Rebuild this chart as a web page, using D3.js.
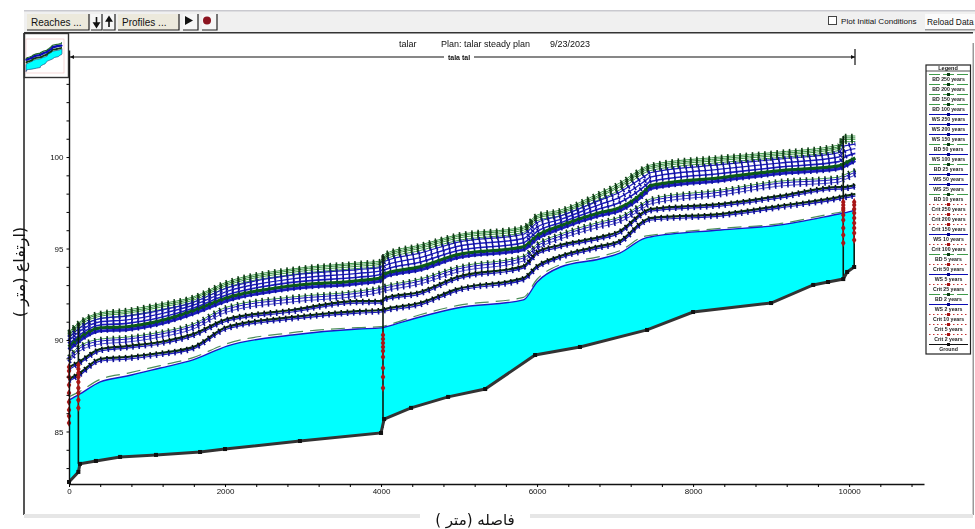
<!DOCTYPE html>
<html>
<head>
<meta charset="utf-8">
<script src="https://cdn.jsdelivr.net/npm/d3@7"></script>
<style>
  html, body { margin: 0; padding: 0; background: #fff; overflow: hidden; }
  svg { display: block; font-family: "Liberation Sans", Arial, sans-serif; filter: blur(0.4px); }
</style>
</head>
<body>
<div id="chart"></div>
<script>
// Data //////////////////////////////////////////////
// Distance along the reach (m) for the water surface and energy profiles
const stations = [0,120,400,745,1170,1590,2025,2860,3705,4000,4050,4500,4975,5825,6000,6300,6800,7060,7385,7450,8350,9100,9870,9930,10080];

const bd250 = [90.44,90.93,91.48,91.64,91.97,92.35,93.17,93.88,94.21,94.32,94.70,95.19,95.74,96.18,96.83,97.10,98.03,98.58,99.45,99.56,100.00,100.27,100.66,101.15,101.15];
const bd200 = [90.35,90.85,91.40,91.55,91.88,92.27,93.08,93.80,94.13,94.23,94.61,95.10,95.66,96.10,96.74,97.00,97.92,98.46,99.36,99.47,99.91,100.18,100.56,101.05,101.05];
const bd150 = [90.25,90.75,91.30,91.46,91.79,92.17,92.99,93.70,94.03,94.14,94.52,95.01,95.56,96.00,96.65,96.92,97.83,98.37,99.27,99.38,99.82,100.09,100.48,100.96,100.97];
const bd100 = [90.13,90.62,91.18,91.33,91.66,92.05,92.87,93.58,93.91,94.02,94.40,94.89,95.43,95.88,96.52,96.79,97.68,98.20,99.15,99.26,99.70,99.97,100.36,100.82,100.85];
const ws250 = [90.13,90.60,91.17,91.30,91.62,92.06,92.84,93.54,93.85,93.97,94.30,94.75,95.34,95.78,96.41,96.78,97.63,98.08,98.97,99.14,99.58,99.89,100.24,100.59,100.71];
const ws200 = [89.96,90.42,91.00,91.10,91.43,91.90,92.66,93.34,93.64,93.78,94.07,94.50,95.11,95.55,96.17,96.59,97.40,97.80,98.70,98.90,99.34,99.67,100.00,100.28,100.46];
const ws150 = [89.78,90.23,90.82,90.91,91.23,91.74,92.47,93.15,93.43,93.58,93.84,94.25,94.88,95.32,95.93,96.41,97.17,97.52,98.43,98.66,99.10,99.45,99.75,99.96,100.20];
const bd50  = [89.62,90.06,90.66,90.72,91.04,91.59,92.30,92.96,93.23,93.39,93.61,93.99,94.65,95.09,95.69,96.24,96.95,97.22,98.15,98.42,98.86,99.24,99.51,99.62,99.95];
const ws100 = [89.46,89.90,90.50,90.56,90.88,91.43,92.14,92.80,93.07,93.23,93.45,93.83,94.49,94.93,95.53,96.08,96.79,97.06,97.99,98.26,98.70,99.08,99.35,99.46,99.79];
const bd25  = [89.07,89.61,90.05,90.16,90.43,90.87,91.80,92.35,92.67,92.89,92.95,93.33,93.98,94.59,95.24,95.79,96.44,96.72,97.54,97.70,98.19,98.68,98.90,99.01,99.29];
const ws50  = [88.96,89.50,89.94,90.05,90.32,90.76,91.69,92.24,92.56,92.78,92.84,93.22,93.87,94.48,95.13,95.68,96.33,96.61,97.43,97.59,98.08,98.57,98.79,98.90,99.18];
const ws25  = [88.80,89.34,89.78,89.89,90.16,90.60,91.53,92.08,92.40,92.62,92.68,93.06,93.71,94.32,94.97,95.52,96.17,96.45,97.27,97.43,97.92,98.41,98.63,98.74,99.02];
const bd10  = [88.52,88.79,89.50,89.67,89.89,90.32,91.14,91.64,92.13,92.13,92.29,92.62,93.44,94.04,94.80,95.19,95.62,95.95,97.04,97.15,97.43,97.86,98.36,98.36,98.47];
const ws10  = [88.41,88.68,89.39,89.56,89.78,90.21,91.03,91.53,92.02,92.02,92.18,92.51,93.33,93.93,94.69,95.08,95.51,95.84,96.93,97.04,97.32,97.75,98.25,98.25,98.36];
const bd5   = [87.87,88.14,88.96,89.07,89.29,89.61,90.71,91.25,91.58,91.64,91.69,92.02,92.78,93.38,94.04,94.59,95.13,95.41,96.55,96.66,96.88,97.32,97.81,97.86,97.97];
const ws5   = [87.76,88.03,88.85,88.96,89.18,89.50,90.60,91.14,91.47,91.53,91.58,91.91,92.67,93.27,93.93,94.48,95.02,95.30,96.44,96.55,96.77,97.21,97.70,97.75,97.86];
const bd2   = [86.90,87.15,87.85,88.18,88.60,89.04,89.80,90.40,90.68,90.73,90.78,91.38,91.88,92.33,93.32,94.12,94.56,94.88,95.68,95.72,96.10,96.35,96.97,97.01,97.16];
const ws2   = [86.72,87.00,87.71,88.03,88.47,88.91,89.67,90.27,90.60,90.66,90.71,91.26,91.75,92.19,93.17,93.99,94.43,94.75,95.57,95.63,96.01,96.28,96.89,96.94,97.10];

// Ground has its own stations
const groundStations = [0,120,140,345,655,1115,1680,2000,2960,4000,4040,4385,4860,5335,5975,6550,7410,8000,9000,9540,9730,9925,9975,10065];
const groundValues = [82.24,82.79,83.23,83.39,83.61,83.72,83.88,84.04,84.48,84.92,85.68,86.29,86.89,87.32,89.18,89.62,90.55,91.53,92.02,93.01,93.17,93.33,93.72,93.99];

// Critical depth only shows up at the steep sections
const critStations = [0,120,4025,9925,10065];
const crit250 = [88.53,88.63,90.27,97.54,97.54];
const crit200 = [88.31,88.42,90.06,97.38,97.38];
const crit150 = [87.98,88.20,89.84,97.21,97.16];
const crit100 = [87.54,87.98,89.62,97.10,96.94];
const crit50  = [87.10,87.71,89.40,96.83,96.67];
const crit25  = [86.61,87.38,89.07,96.56,96.39];
const crit10  = [86.18,87.10,88.47,96.12,96.12];
const crit5   = [85.85,86.72,87.98,95.74,95.85];
const crit2   = [85.47,86.29,87.38,95.30,95.46];

// Vertical section lines
const sectionStations = [120,4025,9925,10065];
const sectionLow = [83.23,85.20,93.33,93.99];
const sectionHigh = [90.93,94.70,101.15,97.10];

// Axis ticks
const xTicks = d3.range(0, 10801, 400);
const yTicks = d3.range(83, 106, 1);

// Order here is the legend order, top to bottom
const legendLabels = [
  'BD 250 years','BD 200 years','BD 150 years','BD 100 years',
  'WS 250 years','WS 200 years','WS 150 years','BD 50 years',
  'WS 100 years','BD 25 years','WS 50 years','WS 25 years',
  'BD 10 years','Crit 250 years','Crit 200 years','Crit 150 years',
  'WS 10 years','Crit 100 years','BD 5 years','Crit 50 years',
  'WS 5 years','Crit 25 years','BD 2 years','WS 2 years',
  'Crit 10 years','Crit 5 years','Crit 2 years','Ground'
];

// Setup //////////////////////////////////////////////////////////////////
const svg = d3.select('#chart').append('svg')
  .attr('width', 975)
  .attr('height', 529);

const x = d3.scaleLinear().domain([0, 10960]).range([69, 924]);
const y = d3.scaleLinear().domain([82.13, 105.85]).range([484, 50]);

// Water lines are smooth, the ground is straight segments
const line = d3.line().x(d => x(d[0])).y(d => y(d[1]));
const smoothLine = d3.line().x(d => x(d[0])).y(d => y(d[1])).curve(d3.curveMonotoneX);
const zip = (xs, ys) => xs.map((v, i) => [v, ys[i]]);

// Profiles drawn from the top of the stack downwards, thin ones first
const profiles = [
  {values: bd250, kind: 'BD', width: 1},
  {values: bd200, kind: 'BD', width: 1},
  {values: bd150, kind: 'BD', width: 1},
  {values: bd100, kind: 'BD', width: 1},
  {values: ws250, kind: 'WS', width: 1.2},
  {values: ws200, kind: 'WS', width: 1.4},
  {values: ws150, kind: 'WS', width: 1.6},
  {values: bd50,  kind: 'BD50', width: 3.4},
  {values: ws100, kind: 'WS', width: 2.8},
  {values: bd25,  kind: 'BD', width: 1},
  {values: ws50,  kind: 'WS', width: 1},
  {values: ws25,  kind: 'WS', width: 0.8},
  {values: bd10,  kind: 'BDdark', width: 2.2},
  {values: ws10,  kind: 'WS', width: 1.2},
  {values: bd5,   kind: 'BDdark', width: 2.2},
  {values: ws5,   kind: 'WS', width: 1.2}
];
const lineColor = {BD: '#3f9a4a', BD50: '#0b5a17', BDdark: '#08300f', WS: '#1c1cc0'};
const tickColor = {BD: '#123f18', BD50: '#0b5a17', BDdark: '#031206', WS: '#10109a'};

// Toolbar ////////////////////////////////////////////////////////////////
svg.append('rect').attr('x', 24).attr('y', 10).attr('width', 951).attr('height', 23).attr('fill', '#f0f0f0');
svg.append('rect').attr('x', 24).attr('y', 10).attr('width', 951).attr('height', 1.5).attr('fill', '#c9c9cf');
svg.append('rect').attr('x', 24).attr('y', 32).attr('width', 949).attr('height', 1.5).attr('fill', '#333');

function button(bx, bw, label, fill) {
  svg.append('rect').attr('x', bx).attr('y', 14).attr('width', bw).attr('height', 16).attr('fill', fill);
  svg.append('path')
    .attr('d', `M${bx + bw},14V30H${bx}`)
    .attr('fill', 'none').attr('stroke', '#222').attr('stroke-width', 1.2);
  if (label) {
    svg.append('text').attr('x', bx + 4).attr('y', 26)
      .attr('font-size', 10).attr('fill', '#111').text(label);
  }
}
button(27, 62, 'Reaches ...', '#ece9dc');
button(91, 11, '', '#f6f6f6');
button(103, 12, '', '#f6f6f6');
button(118, 61, 'Profiles ...', '#ece9dc');
button(183, 15, '', '#f6f6f6');
button(202, 15, '', '#f6f6f6');
svg.append('path').attr('d', 'M96.5,17V23M94,23H99L96.5,27Z').attr('stroke', '#111').attr('stroke-width', 1.6).attr('fill', '#111');
svg.append('path').attr('d', 'M109,20V27M106.5,21H111.5L109,17Z').attr('stroke', '#111').attr('stroke-width', 1.6).attr('fill', '#111');
svg.append('path').attr('d', 'M185,16V25L193,20.5Z').attr('fill', '#111');
svg.append('circle').attr('cx', 207).attr('cy', 20.5).attr('r', 4).attr('fill', '#8c1420');

svg.append('rect').attr('x', 828.5).attr('y', 16.5).attr('width', 8).attr('height', 8)
  .attr('fill', '#fff').attr('stroke', '#444');
svg.append('text').attr('x', 841).attr('y', 24).attr('font-size', 8.1).attr('fill', '#111').text('Plot Initial Conditions');
svg.append('rect').attr('x', 925).attr('y', 14).attr('width', 50).attr('height', 16).attr('fill', '#fbfbfb');
svg.append('rect').attr('x', 925).attr('y', 29).attr('width', 50).attr('height', 1.5).attr('fill', '#999');
svg.append('text').attr('x', 927).attr('y', 25).attr('font-size', 8.4).attr('fill', '#111').text('Reload Data');

// Frame //////////////////////////////////////////////////////////////////
svg.append('rect').attr('x', 23).attr('y', 33).attr('width', 2).attr('height', 482).attr('fill', '#555');
svg.append('rect').attr('x', 972.5).attr('y', 43).attr('width', 1.5).attr('height', 472).attr('fill', '#999');
svg.append('rect').attr('x', 24).attr('y', 514).attr('width', 396).attr('height', 4).attr('fill', '#e6e6e6');
svg.append('rect').attr('x', 530).attr('y', 514).attr('width', 443).attr('height', 4).attr('fill', '#e6e6e6');

// Ground fill and profiles ///////////////////////////////////////////////
const waterEdge = zip(stations, ws2);
const groundEdge = zip(groundStations, groundValues);

svg.append('path')
  .attr('d', smoothLine(waterEdge) + line(groundEdge.slice().reverse()).replace('M', 'L') + 'Z')
  .attr('fill', '#00ffff');

// BD 2 years is a long-dash green line that sits just over the water
svg.append('path')
  .attr('d', smoothLine(zip(stations, bd2)))
  .attr('fill', 'none').attr('stroke', '#4c8f58').attr('stroke-width', 1.2)
  .attr('stroke-dasharray', '14 7');

svg.selectAll('.profile')
  .data(profiles)
  .enter().append('path')
  .attr('class', 'profile')
  .attr('d', d => smoothLine(zip(stations, d.values)))
  .attr('fill', 'none')
  .attr('stroke', d => lineColor[d.kind])
  .attr('stroke-width', d => d.width);

// Cross section marks, one short tick across each line
svg.selectAll('.profile-mark')
  .data(profiles)
  .enter().append('path')
  .attr('class', 'profile-mark')
  .attr('d', d => smoothLine(zip(stations, d.values)))
  .attr('fill', 'none')
  .attr('stroke', d => tickColor[d.kind])
  .attr('stroke-width', 4.5)
  .attr('stroke-dasharray', '1.6 4.6');

svg.append('path')
  .attr('d', smoothLine(waterEdge))
  .attr('fill', 'none').attr('stroke', '#1a1ac8').attr('stroke-width', 1.4);

// Section lines
svg.selectAll('.section')
  .data(sectionStations)
  .enter().append('line')
  .attr('class', 'section')
  .attr('x1', d => x(d)).attr('x2', d => x(d))
  .attr('y1', (d, i) => y(sectionLow[i]))
  .attr('y2', (d, i) => y(sectionHigh[i]))
  .attr('stroke', '#0c1a10').attr('stroke-width', 1.6);

// Ground line
svg.append('path')
  .attr('d', line(groundEdge))
  .attr('fill', 'none').attr('stroke', '#333').attr('stroke-width', 3);
svg.selectAll('.ground-mark')
  .data(groundEdge)
  .enter().append('rect')
  .attr('class', 'ground-mark')
  .attr('x', d => x(d[0]) - 2).attr('y', d => y(d[1]) - 2)
  .attr('width', 4).attr('height', 4).attr('fill', '#111');

// Critical depth marks
const critSeries = [crit250, crit200, crit150, crit100, crit50, crit25, crit10, crit5, crit2];
svg.selectAll('.crit')
  .data(critSeries)
  .enter().append('g')
  .attr('class', 'crit')
  .selectAll('path')
  .data(d => zip(critStations, d))
  .enter().append('path')
  .attr('transform', d => `translate(${x(d[0])},${y(d[1])})`)
  .attr('d', d3.symbol().type(d3.symbolDiamond).size(18))
  .attr('fill', '#a81616');

// Axes ///////////////////////////////////////////////////////////////////
const xAxis = svg.append('g')
  .attr('transform', 'translate(0,484)')
  .call(d3.axisBottom(x).tickValues(xTicks).tickSize(3).tickSizeOuter(0)
    .tickFormat(d => d % 2000 === 0 ? d : ''));
const yAxis = svg.append('g')
  .attr('transform', 'translate(69,0)')
  .call(d3.axisLeft(y).tickValues(yTicks).tickSize(2.5).tickSizeOuter(0)
    .tickFormat(d => d % 5 === 0 && d <= 100 ? d : ''));
[xAxis, yAxis].forEach(axis => {
  axis.select('.domain').attr('stroke', '#111').attr('stroke-width', 1.4);
  axis.selectAll('text')
    .attr('font-family', '"Liberation Sans", Arial, sans-serif')
    .attr('font-size', 8).attr('fill', '#111');
});
xAxis.selectAll('text').attr('dy', '0.55em');

// Axis titles
svg.append('text')
  .attr('transform', 'translate(25,272) rotate(-90)')
  .attr('text-anchor', 'middle')
  .attr('direction', 'rtl')
  .attr('font-family', '"DejaVu Sans", sans-serif')
  .attr('font-size', 16).attr('fill', '#111')
  .text('(ارتفاع (متر )');
svg.append('text')
  .attr('x', 475).attr('y', 525)
  .attr('text-anchor', 'middle')
  .attr('direction', 'rtl')
  .attr('font-family', '"DejaVu Sans", sans-serif')
  .attr('font-size', 15).attr('fill', '#111')
  .text('فاصله (متر )');

// Title and reach bar ////////////////////////////////////////////////////
svg.append('text').attr('x', 399).attr('y', 47).attr('font-size', 9).attr('fill', '#111').text('talar');
svg.append('text').attr('x', 441).attr('y', 47).attr('font-size', 9).attr('fill', '#111').text('Plan: talar steady plan');
svg.append('text').attr('x', 550).attr('y', 47).attr('font-size', 9).attr('fill', '#111').text('9/23/2023');

svg.append('line').attr('x1', 70).attr('x2', 855).attr('y1', 57).attr('y2', 57).attr('stroke', '#111').attr('stroke-width', 1.2);
svg.append('line').attr('x1', 855).attr('x2', 855).attr('y1', 49).attr('y2', 65).attr('stroke', '#111').attr('stroke-width', 1.2);
svg.append('path').attr('d', 'M70,57L74,55V59Z').attr('fill', '#111');
svg.append('path').attr('d', 'M855,57L851,55V59Z').attr('fill', '#111');
svg.append('rect').attr('x', 444).attr('y', 53).attr('width', 30).attr('height', 8).attr('fill', '#fff');
svg.append('text').attr('x', 459).attr('y', 60).attr('text-anchor', 'middle')
  .attr('font-size', 7).attr('font-weight', 'bold').attr('fill', '#111').text('tala tal');

// Thumbnail //////////////////////////////////////////////////////////////
svg.append('rect').attr('x', 24.5).attr('y', 33.5).attr('width', 44).attr('height', 44)
  .attr('fill', '#fff').attr('stroke', '#333').attr('stroke-width', 1.4);
svg.append('rect').attr('x', 26).attr('y', 39).attr('width', 38).attr('height', 34)
  .attr('fill', 'none').attr('stroke', '#f0c8c8').attr('stroke-width', 0.7);

const thumbX = d3.scaleLinear().domain([0, 10080]).range([26, 62]);
const thumbY = d3.scaleLinear().domain([82, 101]).range([72, 43]);
const thumbLine = d3.line().x(d => thumbX(d[0])).y(d => thumbY(d[1]));
svg.append('path')
  .attr('d', thumbLine(waterEdge.concat(groundEdge.slice().reverse())) + 'Z')
  .attr('fill', '#00ffff').attr('stroke', '#115').attr('stroke-width', 0.5);
svg.append('path').attr('d', thumbLine(zip(stations, bd5))).attr('fill', 'none').attr('stroke', '#0b3d14').attr('stroke-width', 2);
svg.append('path').attr('d', thumbLine(zip(stations, ws100))).attr('fill', 'none').attr('stroke', '#0a0ab4').attr('stroke-width', 2.4);
svg.append('path').attr('d', thumbLine(zip(stations, bd250))).attr('fill', 'none').attr('stroke', '#1f6a2a').attr('stroke-width', 1.2);

// Legend /////////////////////////////////////////////////////////////////
const legend = svg.append('g');
legend.append('rect').attr('x', 926).attr('y', 65).attr('width', 44.5).attr('height', 289)
  .attr('fill', '#fff').attr('stroke', '#222').attr('stroke-width', 1.2);
legend.append('line').attr('x1', 926).attr('x2', 970.5).attr('y1', 71).attr('y2', 71).attr('stroke', '#222').attr('stroke-width', 0.8);
legend.append('text').attr('x', 948).attr('y', 70).attr('text-anchor', 'middle')
  .attr('font-size', 5.5).attr('font-weight', 'bold').attr('fill', '#111').text('Legend');

const legendRow = d3.scaleLinear().domain([0, 27]).range([74.5, 344.5]);
const legendStroke = label => label.startsWith('BD') ? '#3f9a4a'
  : label.startsWith('WS') ? '#0a0ab4'
  : label.startsWith('Crit') ? '#c03030' : '#111';

const rows = legend.selectAll('.row')
  .data(legendLabels)
  .enter().append('g')
  .attr('class', 'row')
  .attr('transform', (d, i) => `translate(0,${legendRow(i)})`);
rows.append('line')
  .attr('x1', 929).attr('x2', 968).attr('y1', 0).attr('y2', 0)
  .attr('stroke', legendStroke)
  .attr('stroke-width', 1)
  .attr('stroke-dasharray', d => d.startsWith('BD') ? '11 3'
    : d.startsWith('Crit') ? '1.5 2.5' : null);
rows.append('rect')
  .attr('x', 947).attr('y', -1.5).attr('width', 3).attr('height', 3)
  .attr('fill', d => d.startsWith('Crit') ? '#a81616'
    : d.startsWith('BD') ? '#123f18'
    : d.startsWith('WS') ? '#04048a' : '#111');
rows.append('text')
  .attr('x', 948.5).attr('y', 6)
  .attr('text-anchor', 'middle')
  .attr('font-size', 5.2).attr('font-weight', 'bold').attr('fill', '#222')
  .text(d => d);
</script>
</body>
</html>
